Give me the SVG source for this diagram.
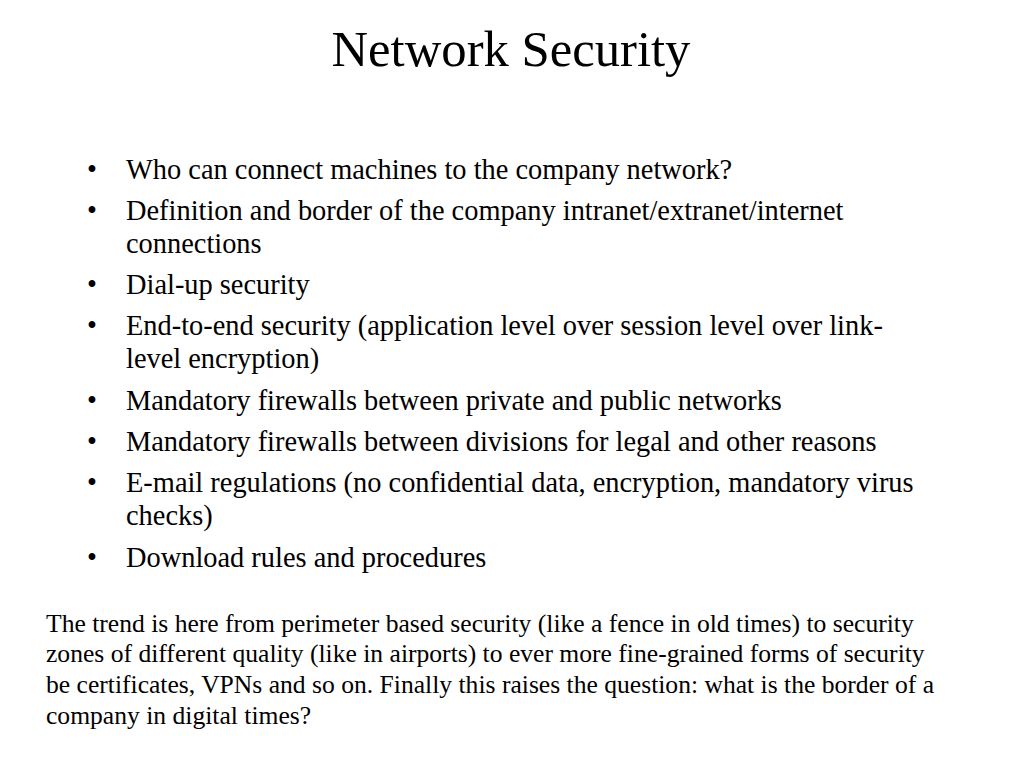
<svg xmlns="http://www.w3.org/2000/svg" width="1024" height="768" viewBox="0 0 1024 768">
<style>
.t{font-family:"Liberation Serif","Times New Roman",serif;fill:#000}
.title{font-size:50.7px}
.b{font-size:28.4px}
.p{font-size:25.6px}
</style>
<rect width="1024" height="768" fill="#fff"/>
<g id="title"><text class="t title" x="511" y="66" text-anchor="middle">Network Security</text></g>
<g id="bullets">
<text class="t b" x="87" y="179">•</text><text class="t b" x="126" y="179">Who can connect machines to the company network?</text>
<text class="t b" x="87" y="220">•</text><text class="t b" x="126" y="220">Definition and border of the company intranet/extranet/internet</text>
<text class="t b" x="126" y="253">connections</text>
<text class="t b" x="87" y="294">•</text><text class="t b" x="126" y="294">Dial-up security</text>
<text class="t b" x="87" y="335">•</text><text class="t b" x="126" y="335">End-to-end security (application level over session level over link-</text>
<text class="t b" x="126" y="368">level encryption)</text>
<text class="t b" x="87" y="410">•</text><text class="t b" x="126" y="410">Mandatory firewalls between private and public networks</text>
<text class="t b" x="87" y="451">•</text><text class="t b" x="126" y="451">Mandatory firewalls between divisions for legal and other reasons</text>
<text class="t b" x="87" y="492">•</text><text class="t b" x="126" y="492">E-mail regulations (no confidential data, encryption, mandatory virus</text>
<text class="t b" x="126" y="525">checks)</text>
<text class="t b" x="87" y="567">•</text><text class="t b" x="126" y="567">Download rules and procedures</text>
</g>
<g id="paragraph">
<text class="t p" x="46" y="632">The trend is here from perimeter based security (like a fence in old times) to security</text>
<text class="t p" x="46" y="662">zones of different quality (like in airports) to ever more fine-grained forms of security</text>
<text class="t p" x="46" y="693">be certificates, VPNs and so on. Finally this raises the question: what is the border of a</text>
<text class="t p" x="46" y="724">company in digital times?</text>
</g>
</svg>
